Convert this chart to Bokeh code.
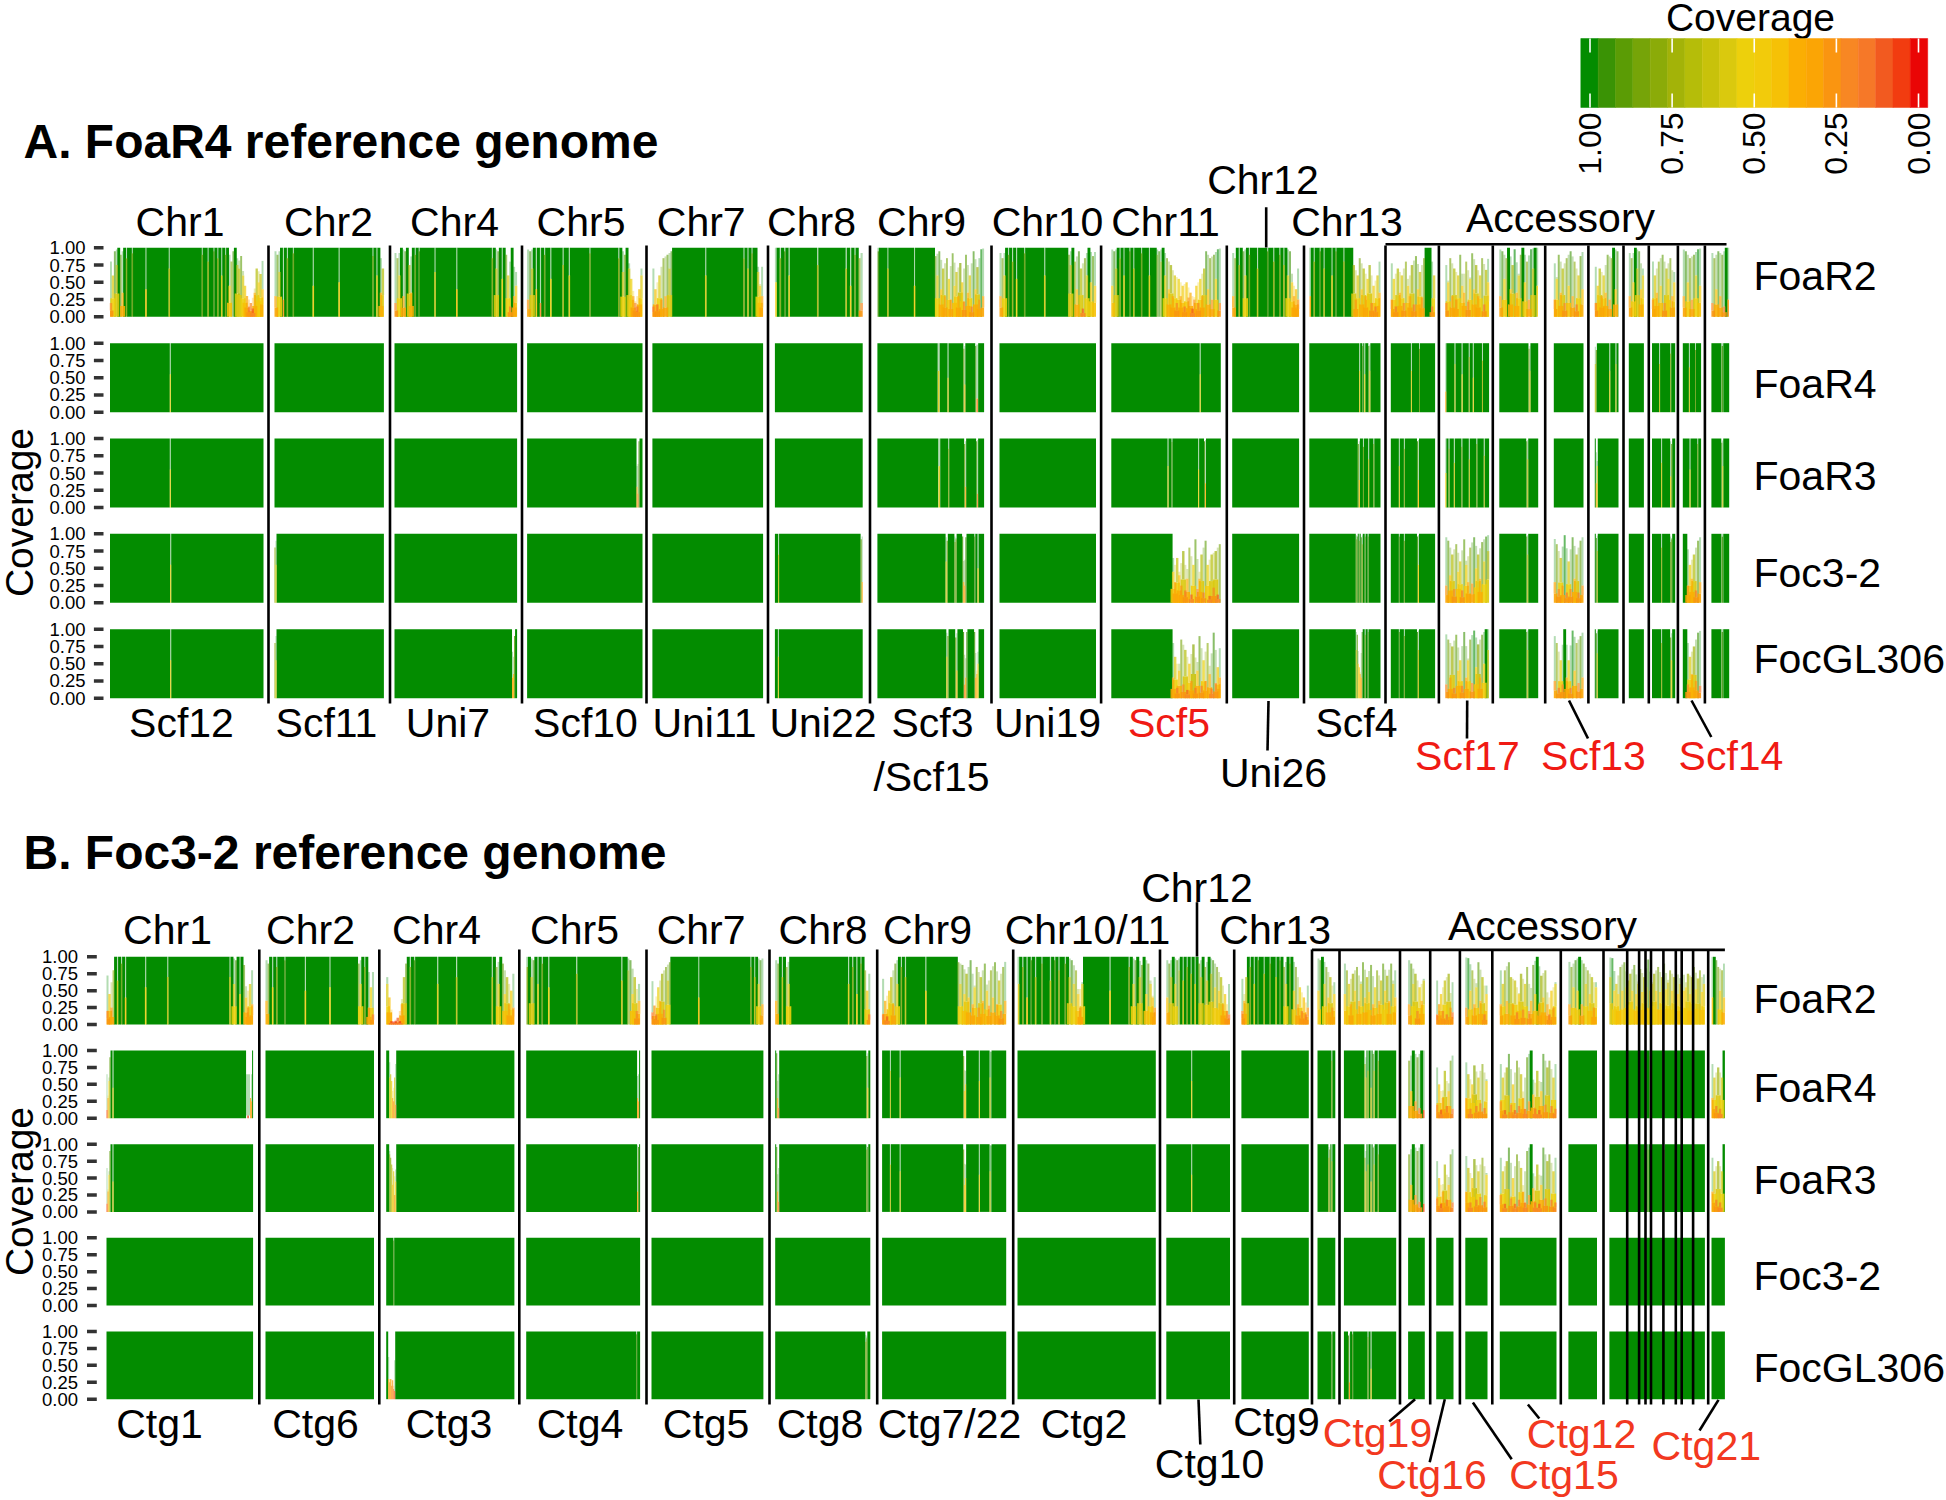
from math import pi
from bokeh.plotting import figure
from bokeh.models import Range1d, ColumnDataSource
from bokeh.core.properties import value
from bokeh.embed import file_html
from bokeh.resources import INLINE

# ---------- legend ----------
LEGEND_COLORS = ["#038C00", "#3A9305", "#5B9C05", "#76A408", "#8BAB08", "#A3B308", "#B5BD09", "#C8C20B", "#DAC90E", "#EDD00C",
                 "#F2CB0B", "#F6C106", "#FBAE03", "#FBA505", "#FA9510", "#F88723", "#F67828", "#F25A20", "#F23C10", "#EA0505"]
LEGEND_TICKS = [1.0, 0.75, 0.5, 0.25, 0.0]
LEGEND_TICK_LABELS = ["1.00", "0.75", "0.50", "0.25", "0.00"]
LEG_TOP, LEG_STEP = 1.028, 0.0528
TRACK_TICKS = [0.0, 0.25, 0.5, 0.75, 1.0]
TRACK_TICK_LABELS = ["0.00", "0.25", "0.50", "0.75", "1.00"]
STRAINS = ["FoaR2", "FoaR4", "FoaR3", "Foc3-2", "FocGL306"]

# ---------- panel A coverage (percent), one list per contig, evenly spread along it ----------
S = [100]
A_FoaR2 = [
 [20,60,95,75,100,90,35,100,85,100,100,92]+[100]*6+[40]+[100]*11+[70]+[100]*16+[90,100,100,80,100,100,95,100,85,100,60,100,90,100,45,80,95,100,75,70,88,60,45,30,15,20,12,35,70,50,62,40],
 [30,90,65,100,25,100,85,100,100,92,100,100,100,100,100,100,100,100,100,45]+[100]*12+[50]+[100]*16+[88,100,60,100,35,70],
 [20,85,60,100,30,95,100,75,35,100,90,100,95,100,100,100,100,100,100,100,65]+[100]*10+[40]+[100]*17+[85,100,70,95,100,55,100,90,60,15,100,30,45],
 [25,95,70,100,40,100,20,100,90,100,100,55,100,100,100,100,100,75,100,100,60]+[100]*9+[92,100]+[100]*12+[85,100,65,90,100,70,55,30,20,15,40,60],
 [15,40,18,60,25,85,30,90,70,95,100,100]+[100]*14+[60]+[100]*18+[85,100,70,100,92,100,100,65,45,30],
 [50,100,85,100,95,100,60]+[100]*12+[75]+[100]*12+[70,100,45,100,90,100,85,20],
 [95,100,100,100,100,70]+[100]*13+[45]+[100]*10+[88,60,95,40,70,30,85,55,25,92,45,65,30,78,50,22,90,35,60,15,95,40,72,25,98,30],
 [30,85,60,100,90,100,80,100,55,100,100,100,92,100]+[100]*8+[60]+[100]*11+[90,75,100,80,40,95,70,12,85,60,100,50,88,45],
 [45,95,70,100,85,100,60,100,100,95,100,70,100,100,100,92,100,100,100,60,100,100,100,90,95,80,100,60,85,40,75,30,60,20,55,30,45,15,50,28,35,12,25,45,20,55,30,70,95,40,85,25,90,55,98,20],
 [30,85,100,75,100,95,60,100,90,100,100,100,70,100,100,100,100,95,100,100,80,100,100,90,100,75,100,60,95,50,30,40,25],
 [30,100,80,100,100,95,100,70,100,100,100,60,100,95,100,100,100,80,100,100,100,100,75,25,60,85,40,70,30,55,75,20,45,15,60,35],
 [25,55,15,70,35,60,20,80,45,30,75,18,88,40,65,28,85,100,100,100,15,60],
 [20,50,85,30,70,25,60,90,45,35,80,22,55,92,40,75,30,60,85,18,68,50],
 [30,95,55,85,100,40,75,98,35,60,90,100,50,80,25,98,70,100,45],
 [25,55,90,35,70,20,85,45,95,30,80,18,60,88,40],
 [20,45,70,30,60,35,90,25,85,100,40,95],
 [30,85,50,100,70,95,40,60],
 [25,60,35,80,45,90,20,70,55,85,30,50],
 [30,95,50,85,25,90,60,98,45],
 [20,85,40,95,30,90,15,100,25],
]
A_CHR9_NOTCHED = [100]*61+[60,60]+[100]*8+[50]+[100]*15+[92,40]+[100]*10+[96,20,20]+[100]*6
A_FoaR4 = [
 [100]*60+[55]+[100]*93, S, S, S, S, S, A_CHR9_NOTCHED, S,
 [100]*88+[55]+[100]*20, S,
 [100]*49+[60,100,100,96,100,55,100,100,100,96,60,100,100,100,100,100,100,100,100,100,100],
 [100]*20+[60]+[100]*7+[92]+[100]*15,
 [30]+[100]*8+[70]+[100]*6+[55]+[100]*6+[80]+[100]*3+[50]+[100]*8+[75]+[100]*6,
 [100]*30+[92,60]+[100]*8, S,
 [70,90]+[100]*12+[60]+[100]*5+[70,100,100], S,
 [100]*7+[70]+[100]*10+[85]+[100]*4,
 [100]*6+[65]+[100]*5+[90]+[100]*5,
 [100]*10+[96,96]+[100]*6,
]
A_SCF4_STRIPED = [100]*47+[92,40]+[100]*3+[88]+[100]*4+[70]+[100]*4+[92]+[100]*6
A_A1_STRIPED = [100]*8+[60]+[100]*4+[85]+[100]*12+[96,40]+[100]*16
A_A2_STRIPED = [50]+[100]*2+[85]+[100]*4+[65]+[100]*6+[88]+[100]*6+[70]+[100]*6+[92]+[100]*6+[75]+[100]*4
A_A3_STRIPED = [100]*27+[96,70]+[100]*10
A_A5_STRIPED = [100,35,60]+[100]*21
A_A7_STRIPED = [100]*9+[65]+[100]*8+[45,92]+[100]*3
A_A8_STRIPED = [100]*7+[55]+[100]*7+[92]+[100]*3
A_A9_STRIPED = [100]*10+[94,60]+[100]*6
A_FoaR3 = [
 [100]*60+[55]+[100]*93, S, S,
 [100]*110+[30,20,96]+[100]*3, S, S,
 [100]*61+[60,60]+[100]*8+[85]+[100]*15+[92,30]+[100]*10+[96,20]+[100]*6, S,
 [100]*57+[60]+[100]*3+[95]+[100]*26+[55]+[100]*5+[96,35]+[100]*15, S,
 A_SCF4_STRIPED, A_A1_STRIPED, A_A2_STRIPED, A_A3_STRIPED, S, A_A5_STRIPED, S, A_A7_STRIPED, A_A8_STRIPED, A_A9_STRIPED,
]
A_SCF5_SPIKES = [45,30,65,40,25,75,18,35,80,12,55,92,20,35,70,15,90,55,10,70,22,75,12,85]
A_FOC32_A2 = [25,90,40,70,20,85,45,60,18,92,55,30,80,28,95,50,70,35,88,60,96,75]
A_FOC32_A4 = [30,85,20,65,25,98,15,60,20,95,35,70,15,90,25]
A_FOC32_A8 = [100,100,25,55,35,70,18,90,30]
A_FoaR3_CHR9 = [100]*62+[60,90]+[100]*6+[88,92]+[100]*5+[96,30,25,95]+[100]*7+[96,100,100,50]+[100]*5
A_Foc32 = [
 [100]*60+[55]+[100]*92, [80,55]+[100]*107, S, [100]*115,
 S, [100]*3+[70]+[100]*78+[92,30], A_FoaR3_CHR9, S,
 [100]*30+A_SCF5_SPIKES, S,
 [100]*47+[92,96,100,90,100,95,85,100,100,96,100,100,96]+[100]*12,
 [100]*8+[96]+[100]*4+[90]+[100]*12+[96,55]+[100]*16,
 A_FOC32_A2, A_A3_STRIPED, A_FOC32_A4, [100,94,75]+[100]*21, S, [100]*9+[80]+[100]*8+[88,92]+[100]*3, A_FOC32_A8, [100]*10+[96,96]+[100]*6,
]
A_GL306_SCF5 = [30,60,15,40,85,20,70,12,50,25,78,15,40,90,18,55,25,80,35,14,95,22,45,30]
A_GL306_A2 = [20,85,30,75,15,92,40,55,18,96,30,55,85,22,98,45,78,30,92,50,100,70]
A_GL306_A4 = [25,80,15,55,20,100,30,55,15,98,40,80,22,90,30]
A_FocGL306 = [
 [100]*60+[55]+[100]*92, [80,55]+[100]*107, [100]*116+[30,35,90,100,100], [100]*115,
 S, [100]*3+[60]+[100]*84, [100]*62+[60,90]+[100]*6+[88,40]+[100]*5+[96,20,30,96]+[100]*6+[96,30,35,50]+[100]*5, S,
 [100]*30+A_GL306_SCF5, S,
 [100]*47+[70,92,50,45,35,30,96,100,100,92,100,100,96]+[100]*12,
 [100]*8+[96]+[100]*4+[90]+[100]*12+[96,70]+[100]*16,
 A_GL306_A2, A_A3_STRIPED, A_GL306_A4, [100,94,65]+[100]*21, S, [100]*9+[80]+[100]*8+[88,55]+[100]*3, [100,100,20,60,35,75,25,95,18], [100]*10+[96,96]+[100]*6,
]

# ---------- panel B coverage (percent) ----------
B_FoaR2 = [
 [20,45,25,80,100,65,100,90,100,40,100,100,100,100,100,100,100,100,100,55]+[100]*10+[70]+[100]*30+[70,100,60,95,100,45,100,88,40,25,60,30],
 [35,90,100,55,100,85,100,100,100,95]+[100]*9+[50]+[100]*11+[55]+[100]*13+[90,60,100,85,100,25,55,15],
 [60,40,5,4,5,10,5,30,70,90,100,85,100,95]+[100]*10+[60]+[100]*8+[70]+[100]*16+[70,100,85,60,100,90,45,70,30,50,25],
 [85,100,70,95,100,60,100,90,100,100,55]+[100]*12+[75]+[100]*20+[65,100,100,80,95,45,70,20,35],
 [18,28,15,55,35,75,22,85,65,92,100,100]+[100]*12+[40]+[100]*26+[85,100,70,100,60,95,30],
 [35,90,100,70,100,85,60,100,100]+[100]*26+[60,100,85,100,45,100,90,100,80,50,15],
 [15,35,12,50,70,30,90,60,100,85,100,70]+[100]*9+[50]+[100]*15+[92,60,88,45,75,40,95,30,55,85,25,70,35,90,50,28,80,40,92,30,65,20,85,35],
 [60,100,85,100,40,100,95,100,70,100,100,90,100,100,100,65,100,95,100,80,100,100,90,100,70,95,60,80,45,25,60,100,100]+[100]*10+[50]+[100]*8+[85,100,60,95,100,70,88,100,45,90,60,40,25],
 [40,90,70,100,60,95,80,100,65,100,85,100,75,100,60,100,90,70,100,85,65,100,75,95,55,85,50,70,30,45,20,15],
 [20,35,70,100,85,100,60,100,95,100,100,75,100,100,90,100,100,70,100,95,100,85,60,100,90,100,50,85,30,55,20,40,15,25],
 [50,95,100,60,85,40,70,25,45],
 [45,80,60,30,75,50,85,35,60,92,40,70,48,88,30,55,80,35,65,90,50,72,35,90,60,40],
 [30,90,60,75,20,55,35,65],
 [15,30,45,20,65,15,75,25,18],
 [25,98,50,80,30,55,92,35,70,15,45],
 [30,60,80,35,92,70,30,65,18,45,75,22,60,85,20,35,88,45,100,30,72,40,80,30,15,50,25,60],
 [30,85,55,95,50,100,30,90,60,80,45,70,25,55],
 [70,98,50,60,45,85,50,92,55,65,75,50,88,45,60,82,48,70,55,96,50,60,75,50,85,48,70,90,52,62,80,50,70,88,45,60,92,50,55,75,45,70,85,52,68,80,48,60],
 [40,100,95,85,50,80,40],
]
B_A2_NOTCHED = [100]*20+[80,60,100,70,100,100,45,100,95,70,100,100,100,85]+[100]*17
B_A3_SPIKES = [85,40,100,25,90,15,100,12]
B_A4_SPIKES = [20,50,12,30,70,18,40,85,14]
B_A5_SPIKES = [30,65,14,50,78,18,60,22,80,15,55]
B_A6_SPIKES = [25,60,12,75,95,20,50,12,85,18,65,30,14,90,25,100,35,14,70,12,40,95,20,75,85,18,60,14]
B_A9_SPIKES = [30,60,18,75,14,60,100]
B_CHR9 = [100]*8+[70]+[100]*9+[60]+[100]*64+[92,40,50]+[100]*13+[55]+[100]*10+[60,98]+[100]*15
B_FoaR4 = [
 [12,30,55,90,100,100,45]+[100]*132+[4,4,4,4,30,25,100], S,
 [100,100,100,60,65,55,30,25,60,20]+[100]*118,
 [100]*111+[30,25,100], S,
 [100,96,30,15,100,100,100]+[100]*84+[92,45,100,100], B_CHR9, S,
 [100]*25+[55]+[100]*38, S,
 [100]*14+[85,100,100,100], B_A2_NOTCHED, B_A3_SPIKES, B_A4_SPIKES, B_A5_SPIKES, B_A6_SPIKES, S,
 [100]*40+[92]+[100]*12+[96]+[100]*41, B_A9_SPIKES,
]
B_FoaR3 = [
 [12,30,55,90,100,100,45]+[100]*140, S,
 [100,100,100,85,80,70,40,60,25,45]+[100]*118,
 [100]*111+[30,96,100], S,
 [100,96,30,15,100,100,100]+[100]*84+[92,96,100,100], B_CHR9, S,
 [100]*25+[55]+[100]*38, S,
 [100]*11+[80,92,100,75,100,100,100], B_A2_NOTCHED, B_A3_SPIKES, B_A4_SPIKES, B_A5_SPIKES, B_A6_SPIKES, S,
 [100]*38+[92]+[100]*14+[96,92]+[100]*40, B_A9_SPIKES,
]
B_Foc32 = [
 S, S, [100]*7+[96]+[100]*120, S, S, S, S, S, S, S, S, S, S, S, S, S, S, S, S,
]
B_FocGL306 = [
 S, S, [100,100,30,25,30,20,28,15,12]+[100]*119, [100]*110+[96]+[100]*3, S,
 [100]*91+[85,90]+[100]*3, S, S, S, S,
 [100]*14+[96,100,100,100],
 [100]*4+[94,25,100,100,96]+[100]*14+[92,100,100,45]+[100]*24, S, S, S, S, S, S, S,
]

# ---------- layout of the contigs along the two panels ----------
A_STARTS = [109.5,274,394,526.6,651.9,774.4,876.9,999,1110.8,1231.7,1308.8,1390.3,1444.8,1498.8,1553.3,1594.3,1628.3,1651.5,1682.3,1710.9]
A_WIDTHS = [153.5,109.4,122.6,115.4,110.7,87.8,106.7,96.5,109.5,66.9,71.2,44.3,43.8,38.9,29.7,23.7,15.1,23.2,18.3,17.8]
A_SEPS = [268,389.5,521.5,646,767.5,869.5,991,1100.6,1226.3,1303.5,1385,1438.4,1492.3,1544.7,1587.9,1623,1648.3,1677.4,1704.4]
B_STARTS = [106,265,385.7,525.7,651,774.7,881.6,1017,1165.8,1240.9,1317,1343.4,1407.6,1435.7,1464.8,1499.3,1567.9,1608.9,1711]
B_WIDTHS = [146.6,108.5,128.2,113.9,111.9,95.1,124.1,138.3,63.7,67.4,17.8,52.3,16.7,17.3,22.2,56.7,28.6,95.5,13.4]
B_SEPS = [258.8,378.8,518.8,646,769,876.7,1012.7,1159.5,1233.7,1311.5,1339,1399.5,1429.7,1459.4,1491.8,1560.3,1603,1626.7,1638.6,1645,1650.5,1662.9,1675.3,1681.2,1692.6,1707.7]
A_TOPS = [247.3,342.7,438,533.3,628.7]
A_H = 69
B_TOPS = [956.3,1050,1143.7,1237.3,1331]
B_H = 67.7

# ---------- texts: (label, centre x, baseline y) ----------
A_TOP_LABELS = [("Chr1",179.5,236),("Chr2",328,236),("Chr4",454,236),("Chr5",580.5,236),("Chr7",700.7,236),("Chr8",811,236),
                ("Chr9",921,236),("Chr10",1047,236),("Chr11",1165,236),("Chr12",1262.5,194),("Chr13",1346.5,236),("Accessory",1560,232)]
A_BOTTOM_LABELS = [("Scf12",181,737),("Scf11",326,737),("Uni7",447.5,737),("Scf10",585,737),("Uni11",704,737),("Uni22",822.5,737),
                   ("Scf3",932,737),("/Scf15",931,791),("Uni19",1047,737),("Uni26",1273,787),("Scf4",1356,737)]
A_RED_LABELS = [("Scf5",1168.5,737),("Scf17",1467,770),("Scf13",1593,770),("Scf14",1730.5,770)]
B_TOP_LABELS = [("Chr1",167,944),("Chr2",310,944),("Chr4",436,944),("Chr5",574,944),("Chr7",700.6,944),("Chr8",822.5,944),
                ("Chr9",927,944),("Chr10/11",1087,944),("Chr12",1196.5,902),("Chr13",1274.7,944),("Accessory",1542,939.5)]
B_BOTTOM_LABELS = [("Ctg1",159,1438),("Ctg6",315,1438),("Ctg3",448.5,1438),("Ctg4",579.5,1438),("Ctg5",705.6,1438),("Ctg8",819.5,1438),
                   ("Ctg7/22",949,1438),("Ctg2",1083.5,1438),("Ctg10",1209,1478),("Ctg9",1276,1436)]
B_RED_LABELS = [("Ctg19",1377,1447),("Ctg16",1431.5,1489),("Ctg15",1563.5,1489),("Ctg12",1581,1448),("Ctg21",1705.8,1460)]
A_ROW_BASE = [290,398,490,587,673]
B_ROW_BASE = [1013,1102,1194,1290,1382]

A_LEADERS = [(1265.7,206.7,1265.7,247),(1268,700.5,1267,750),(1466.7,700,1466.5,738),(1568.5,700,1587.5,738),(1691,700,1710.8,736.5)]
B_LEADERS = [(1196.5,901.7,1196.5,956),(1198,1399,1199.8,1444),(1414.6,1398.7,1388.7,1421),(1444.3,1398.7,1429.2,1461.8),
             (1472.4,1402,1511.2,1458.7),(1527.4,1404,1538.8,1418),(1718,1399.4,1699,1430)]

FONT = value("Liberation Sans")
W, H = 1946, 1500
MID = 0.3465  # em from alphabetic baseline to the central baseline of this font

p = figure(width=W, height=H, x_range=Range1d(0, W), y_range=Range1d(H, 0), x_axis_location=None, y_axis_location=None,
           toolbar_location=None, output_backend="svg", min_border=0, outline_line_color=None, margin=0)
p.grid.visible = False
p.background_fill_color = "white"

COV_1, COV_0 = 1589.5, 1918
cov_per_px = 1.0 / (COV_0 - COV_1)
p.extra_x_ranges["cov"] = Range1d(1 + COV_1 * cov_per_px, 1 - (W - COV_1) * cov_per_px)


def colour(v):
    i = int((LEG_TOP - v / 100.0) / LEG_STEP)
    return LEGEND_COLORS[min(19, max(0, i))]


def bar_parts(st, wd, prof):
    """One quad per run at full cover; samples under it are drawn in front, as the overlapping reads do."""
    out = []
    bin_w = wd / len(prof)
    fine = bin_w < 1.5
    i = 0
    while i < len(prof):
        j = i
        while j + 1 < len(prof) and prof[j + 1] == prof[i]:
            j += 1
        v = prof[i]
        l0, r0 = st + i * bin_w, st + (j + 1) * bin_w
        cx = (l0 + r0) / 2
        prev_v = prof[i - 1] if i else 100
        next_v = prof[j + 1] if j + 1 < len(prof) else 100
        isolated = prev_v >= 100 and next_v >= 100
        # pale wash of the taller neighbours above a shorter sample
        wash = (prev_v + next_v) / 2.0
        if v < 100 and wash > v:
            out.append((101, l0, r0, v / 100.0, wash / 100.0, colour(max(prev_v, next_v)), 0.3))
        if v >= 100:
            grow = 0.45 if not fine else 0
            out.append((100, max(st, l0 - grow), min(st + wd, r0 + grow), 0, 1.0, colour(100), 1.0))
        elif fine or isolated:
            hw = min((r0 - l0) / 2, 0.8)
            out.append((v, cx - hw, cx + hw, 0, v / 100.0, colour(v), 0.85))
        elif v >= 80:
            out.append((v, l0, r0, 0, v / 100.0, colour(v), 0.6))
        else:
            out.append((v, max(st, cx - 1.3 * bin_w), min(st + wd, cx + 1.3 * bin_w), 0, 0.45 * v / 100.0, colour(v * 0.6 + 15), 0.9))
            out.append((v + 0.5, cx - 0.6 * bin_w, cx + 0.6 * bin_w, 0.45 * v / 100.0, v / 100.0, colour(v), 0.7))
        i = j + 1
    return out


def draw_track(name, top, height, starts, widths, profiles, label_right, tick_l, tick_r):
    base = top + height
    p.extra_y_ranges[name] = Range1d(start=(base - H) / height, end=base / height)
    rows = []
    for st, wd, prof in zip(starts, widths, profiles):
        rows.extend(bar_parts(st, wd, prof))
    rows.sort(key=lambda t: -t[0])
    src = ColumnDataSource(dict(left=[t[1] for t in rows], right=[t[2] for t in rows], bottom=[t[3] for t in rows],
                                top=[t[4] for t in rows], color=[t[5] for t in rows], alpha=[t[6] for t in rows]))
    p.quad(left="left", right="right", top="top", bottom="bottom", fill_color="color", fill_alpha="alpha",
           line_color=None, y_range_name=name, source=src)
    p.segment(x0=[tick_l] * 5, x1=[tick_r] * 5, y0=TRACK_TICKS, y1=TRACK_TICKS, line_color="#333333", line_width=3.5,
              y_range_name=name)
    p.text(x=[label_right] * 5, y=TRACK_TICKS, text=TRACK_TICK_LABELS, text_font=FONT, text_font_size="18.5px",
           text_align="right", text_baseline="middle", text_color="black", y_range_name=name)


for k, (tp, prof) in enumerate(zip(A_TOPS, [A_FoaR2, A_FoaR4, A_FoaR3, A_Foc32, A_FocGL306])):
    draw_track(f"A{k}", tp, A_H, A_STARTS, A_WIDTHS, prof, 85, 93.4, 103)
for k, (tp, prof) in enumerate(zip(B_TOPS, [B_FoaR2, B_FoaR4, B_FoaR3, B_Foc32, B_FocGL306])):
    draw_track(f"B{k}", tp, B_H, B_STARTS, B_WIDTHS, prof, 77.5, 86.5, 96.3)


def vlines(xs, y0, y1, lw=2.6):
    p.segment(x0=xs, x1=xs, y0=[y0] * len(xs), y1=[y1] * len(xs), line_color="black", line_width=lw)


vlines(A_SEPS, 245, 703)
vlines(B_SEPS, 949, 1404)
p.segment(x0=[1385], x1=[1726], y0=[243.7], y1=[243.7], line_color="black", line_width=2.6)
p.segment(x0=[1311.5], x1=[1724.4], y0=[949.4], y1=[949.4], line_color="black", line_width=2.6)
for L in (A_LEADERS, B_LEADERS):
    p.segment(x0=[q[0] for q in L], y0=[q[1] for q in L], x1=[q[2] for q in L], y1=[q[3] for q in L],
              line_color="black", line_width=2.6)


def labels(items, color="black", size=41, align="center", x=None, font_style="normal"):
    p.text(x=[q[1] for q in items] if x is None else [x] * len(items), y=[q[2] - MID * size for q in items],
           text=[q[0] for q in items], text_font=FONT, text_font_size=f"{size}px", text_align=align, text_baseline="middle",
           text_color=color, text_font_style=font_style)


labels(A_TOP_LABELS)
labels(A_BOTTOM_LABELS)
labels(A_RED_LABELS, color="#F01A14")
labels(B_TOP_LABELS)
labels(B_BOTTOM_LABELS)
labels(B_RED_LABELS, color="#F23820")
labels([(s, 0, y) for s, y in zip(STRAINS, A_ROW_BASE)], align="left", x=1753)
labels([(s, 0, y) for s, y in zip(STRAINS, B_ROW_BASE)], align="left", x=1753)
labels([("A. FoaR4 reference genome", 23, 158)], size=48, align="left", x=23, font_style="bold")
labels([("B. Foc3-2 reference genome", 23, 869)], size=48, align="left", x=23, font_style="bold")
labels([("Coverage", 1750, 31)], size=39)
p.text(x=[33 - MID * 39] * 2, y=[512, 1191], text=["Coverage", "Coverage"], angle=pi / 2, text_font=FONT, text_font_size="39px",
       text_align="center", text_baseline="middle", text_color="black")

lefts = [LEG_TOP - i * LEG_STEP for i in range(20)]
p.quad(left=lefts, right=[v - LEG_STEP for v in lefts], top=[38] * 20, bottom=[107] * 20, fill_color=LEGEND_COLORS,
       line_color=LEGEND_COLORS, line_width=0.5, x_range_name="cov")
p.segment(x0=LEGEND_TICKS, x1=LEGEND_TICKS, y0=[38] * 5, y1=[52] * 5, line_color="white", line_width=1.6, x_range_name="cov")
p.segment(x0=LEGEND_TICKS, x1=LEGEND_TICKS, y0=[93] * 5, y1=[107] * 5, line_color="white", line_width=1.6, x_range_name="cov")
p.text(x=LEGEND_TICKS, y=[112] * 5, text=LEGEND_TICK_LABELS, angle=pi / 2, text_font=FONT, text_font_size="32px",
       text_align="right", text_baseline="middle", text_color="black", x_range_name="cov")

open("out.html", "w").write(file_html(p, INLINE))
